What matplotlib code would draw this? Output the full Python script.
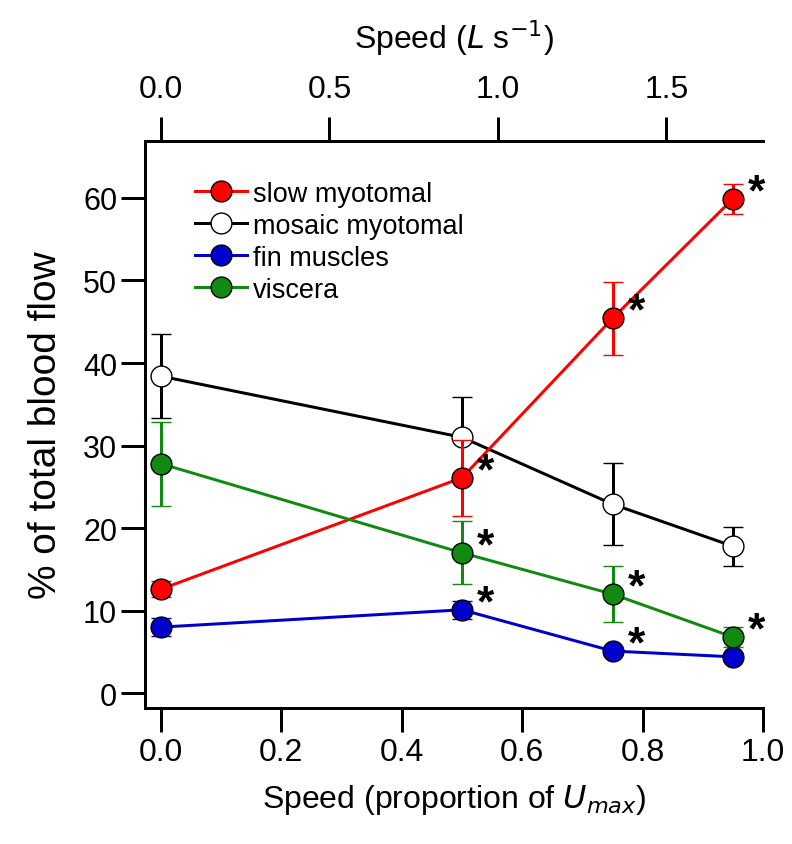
import numpy as np
import matplotlib
matplotlib.use("Agg")
import matplotlib.pyplot as plt
from matplotlib.lines import Line2D

plt.rcParams['font.family'] = ['Liberation Sans', 'DejaVu Sans']

# speed as proportion of Umax
speed = [0.0, 0.5, 0.75, 0.95]
umax_ls = 1.787  # Umax in body lengths per second (top axis)

slow = [12.6, 26.1, 45.4, 59.9]
slow_err = [1.0, 4.6, 4.45, 1.8]
mosaic = [38.4, 31.0, 22.9, 17.8]
mosaic_err = [5.1, 4.9, 5.0, 2.35]
fin = [8.0, 10.1, 5.1, 4.4]
fin_err = [1.1, 1.1, 0.3, 0.3]
viscera = [27.8, 17.0, 12.0, 6.8]
viscera_err = [5.1, 3.8, 3.4, 1.2]

# significance stars
slow_sig = [False, True, True, True]
mosaic_sig = [False, False, False, False]
fin_sig = [False, True, True, False]
viscera_sig = [False, True, True, True]

fig = plt.figure(figsize=(7.92, 8.45), dpi=100)
ax = fig.add_axes([145/792, 1-709/845, (763-145)/792, (709-142)/845])

lw = 2.16
ms = 15

def draw(y, err, sig, color, face, z):
    ax.errorbar(speed, y, yerr=err, color=color, lw=lw, elinewidth=lw,
                capsize=7, capthick=lw, marker='o', ms=ms, mfc=face,
                mec='black', mew=1, zorder=z)
    for xi, yi, s in zip(speed, y, sig):
        if s:
            ax.annotate('*', (xi, yi), xytext=(17, 4.5), textcoords='offset points',
                        fontsize=32, fontweight='bold', ha='center', va='center',
                        zorder=10)

draw(mosaic, mosaic_err, mosaic_sig, 'black', 'white', 2)
draw(slow, slow_err, slow_sig, '#ff0000', '#ff0000', 3)
draw(fin, fin_err, fin_sig, '#0000cc', '#0000cc', 4)
draw(viscera, viscera_err, viscera_sig, '#128a12', '#128a12', 5)

ax.set_xlim(-0.0266, 1.0)
ax.set_ylim(-1.8, 66.9)
ax.set_xticks([0.0, 0.2, 0.4, 0.6, 0.8, 1.0])
ax.set_xticklabels(['0.0', '0.2', '0.4', '0.6', '0.8', '1.0'], fontsize=23)
ax.set_yticks([0, 10, 20, 30, 40, 50, 60])
ax.set_yticklabels(['0', '10', '20', '30', '40', '50', '60'], fontsize=22)
ax.spines['right'].set_visible(False)
for s in ['left', 'bottom', 'top']:
    ax.spines[s].set_linewidth(lw)
ax.tick_params(direction='out', length=17, width=lw, pad=3)
ax.tick_params(axis='x', pad=4)
ax.set_xlabel('Speed (proportion of $\\mathit{U_{max}}$)', fontsize=23, labelpad=11)
ax.set_ylabel('% of total blood flow', fontsize=28, labelpad=14)

ax2 = ax.twiny()
ax2.set_xlim(-0.0266 * umax_ls, 1.0 * umax_ls)
ax2.set_xticks([0.0, 0.5, 1.0, 1.5])
ax2.set_xticklabels(['0.0', '0.5', '1.0', '1.5'], fontsize=23)
ax2.spines['right'].set_visible(False)
ax2.spines['top'].set_linewidth(lw)
ax2.tick_params(direction='out', length=17, width=lw, pad=10)
ax2.set_xlabel('Speed ($\\mathit{L}$ s$^{-1}$)', fontsize=23, labelpad=18)

handles = [
    Line2D([], [], color='#ff0000', lw=lw, marker='o', ms=ms, mfc='#ff0000', mec='black'),
    Line2D([], [], color='black', lw=lw, marker='o', ms=ms, mfc='white', mec='black'),
    Line2D([], [], color='#0000cc', lw=lw, marker='o', ms=ms, mfc='#0000cc', mec='black'),
    Line2D([], [], color='#128a12', lw=lw, marker='o', ms=ms, mfc='#128a12', mec='black'),
]
labels = ['slow myotomal', 'mosaic myotomal', 'fin muscles', 'viscera']
ax.legend(handles, labels, loc='upper left', bbox_to_anchor=(0.081, 0.93), frameon=False,
          fontsize=19.5, handlelength=1.93, handletextpad=0.2, labelspacing=0.22,
          borderaxespad=0, borderpad=0)

fig.savefig('out.png', dpi=100)
